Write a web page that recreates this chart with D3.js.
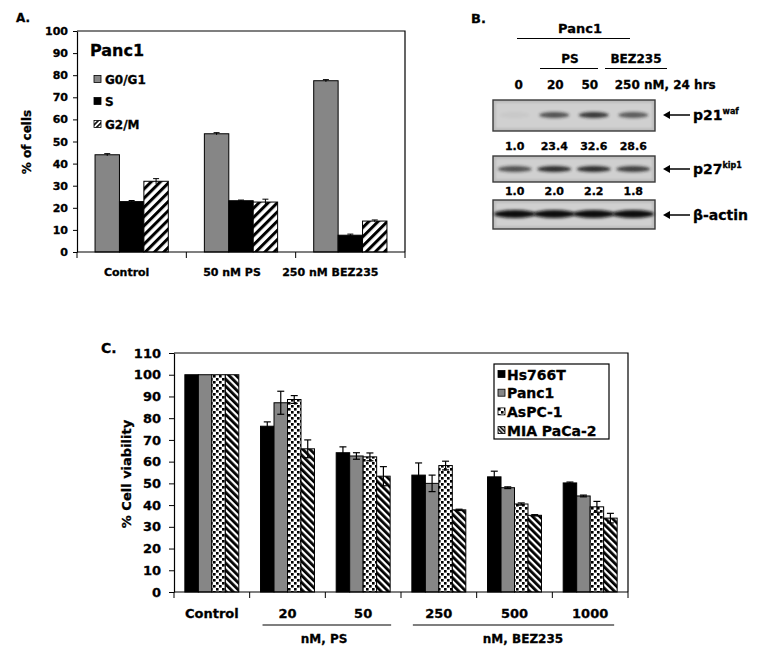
<!DOCTYPE html>
<html><head><meta charset="utf-8">
<script src="https://cdn.jsdelivr.net/npm/d3@7"></script>
<style>
html,body{margin:0;padding:0;background:#fff;}
svg{display:block;}
text{font-family:"DejaVu Sans","Liberation Sans",Arial,sans-serif;font-weight:bold;fill:#000;stroke:#000;stroke-width:0.3px;}
</style></head>
<body>
<svg id="fig" width="780" height="651"></svg>
<script>
// ---------- Panel A data ----------
const aCategories = ["Control", "50 nM PS", "250 nM BEZ235"];
const aSeries = ["G0/G1", "S", "G2/M"];
const aG0G1 = [44, 53.5, 77.5];
const aG0G1Err = [0.5, 0.5, 0.5];
const aS = [22.8, 23.2, 7.6];
const aSErr = [0.5, 0.3, 0.5];
const aG2M = [32, 22.6, 14];
const aG2MErr = [1.2, 1.3, 0.5];
const aTicks = [0, 10, 20, 30, 40, 50, 60, 70, 80, 90, 100];

// ---------- Panel B data ----------
const bLanes = ["0", "20", "50", "250"];
const bP21Quant = ["1.0", "23.4", "32.6", "28.6"];
const bP27Quant = ["1.0", "2.0", "2.2", "1.8"];
const bP21Band = [0.04, 0.7, 0.85, 0.65];
const bP27Band = [0.7, 0.9, 0.9, 0.8];
const bActinBand = [1, 1, 1, 1];

// ---------- Panel C data ----------
const cCategories = ["Control", "20", "50", "250", "500", "1000"];
const cSeries = ["Hs766T", "Panc1", "AsPC-1", "MIA PaCa-2"];
const cHs766T = [100, 76.3, 64.1, 53.8, 53, 50.2];
const cHs766TErr = [0, 2, 2.7, 5.6, 2.6, 0.4];
const cPanc1 = [100, 87.1, 62.6, 50, 48, 44.2];
const cPanc1Err = [0, 5.3, 1.5, 3.8, 0.4, 0.4];
const cAsPC1 = [100, 88.6, 62.2, 58.2, 40.5, 39.2];
const cAsPC1Err = [0, 1.8, 1.8, 2, 0.5, 2.5];
const cMIA = [100, 65.9, 53.3, 37.8, 35.3, 34];
const cMIAErr = [0, 4.1, 4.4, 0.3, 0.3, 2.2];
const cTicks = [0, 10, 20, 30, 40, 50, 60, 70, 80, 90, 100, 110];

const svg = d3.select("#fig");
const defs = svg.append("defs");

// patterns
function stripes(id, size, black, angle) {
  const p = defs.append("pattern").attr("id", id).attr("patternUnits", "userSpaceOnUse")
    .attr("width", size).attr("height", size).attr("patternTransform", `rotate(${angle})`);
  p.append("rect").attr("width", size).attr("height", size).attr("fill", "#fff");
  p.append("rect").attr("width", black).attr("height", size).attr("fill", "#000");
}
stripes("stripeA", 6.5, 3, 45);
stripes("stripeC", 5, 2.8, -45);
stripes("stripeLegA", 3.5, 1.6, 45);
stripes("stripeLegC", 3, 1.6, -45);
(function () {
  const p = defs.append("pattern").attr("id", "dots").attr("patternUnits", "userSpaceOnUse")
    .attr("width", 6).attr("height", 6);
  p.append("rect").attr("width", 6).attr("height", 6).attr("fill", "#fff");
  p.append("rect").attr("x", 0).attr("y", 0).attr("width", 2.6).attr("height", 2.6).attr("fill", "#000");
  p.append("rect").attr("x", 3).attr("y", 3).attr("width", 2.6).attr("height", 2.6).attr("fill", "#000");
})();
defs.append("filter").attr("id", "blur").attr("x", "-30%").attr("y", "-100%").attr("width", "160%").attr("height", "300%")
  .append("feGaussianBlur").attr("stdDeviation", 1.5);
defs.append("filter").attr("id", "blurBg")
  .append("feGaussianBlur").attr("stdDeviation", 1.2);

const grey = "#868686";

// =================== PANEL A ===================
(function () {
  const L = 77, R = 405, T = 31, B = 252;
  const g = svg.append("g");
  const x = d3.scaleBand().domain(aCategories).range([L, R]).paddingInner(0.33).paddingOuter(0.165);
  const xs = d3.scaleBand().domain(aSeries).range([0, x.bandwidth()]);
  const y = d3.scaleLinear().domain([0, 100]).range([B, T]);
  const fills = { "G0/G1": grey, "S": "#000", "G2/M": "url(#stripeA)" };
  const vals = { "G0/G1": aG0G1, "S": aS, "G2/M": aG2M };
  const errs = { "G0/G1": aG0G1Err, "S": aSErr, "G2/M": aG2MErr };

  g.append("path").attr("d", `M${L},${T}H${R}V${B}`).attr("fill", "none").attr("stroke", "#000").attr("stroke-width", 1.2);

  aSeries.forEach(s => {
    const data = aCategories.map((c, i) => ({ c, v: vals[s][i], e: errs[s][i] }));
    g.selectAll(null).data(data).enter().append("rect")
      .attr("x", d => x(d.c) + xs(s)).attr("y", d => y(d.v))
      .attr("width", xs.bandwidth()).attr("height", d => B - y(d.v))
      .attr("fill", fills[s]).attr("stroke", "#000").attr("stroke-width", 1);
    const eb = g.selectAll(null).data(data).enter().append("g")
      .attr("transform", d => `translate(${x(d.c) + xs(s) + xs.bandwidth() / 2},0)`);
    eb.append("line").attr("y1", d => y(d.v - d.e)).attr("y2", d => y(d.v + d.e)).attr("stroke", "#000");
    eb.append("line").attr("x1", -3).attr("x2", 3).attr("y1", d => y(d.v + d.e)).attr("y2", d => y(d.v + d.e)).attr("stroke", "#000");
  });

  const ya = g.append("g").attr("transform", `translate(${L},0)`)
    .call(d3.axisLeft(y).tickValues(aTicks).tickSize(4).tickSizeOuter(0).tickPadding(5));
  ya.select(".domain").attr("stroke-width", 1.2);
  ya.selectAll("text").style("font-size", "11px").style("font-family", "DejaVu Sans").style("font-weight", "bold");
  g.append("line").attr("x1", L).attr("x2", R).attr("y1", B).attr("y2", B).attr("stroke", "#000").attr("stroke-width", 1.2);
  const bounds = aCategories.map(c => x(c) - x.step() * x.paddingInner() / 2).concat([R]);
  bounds[0] = L;
  g.selectAll(null).data(bounds).enter().append("line")
    .attr("x1", d => d).attr("x2", d => d).attr("y1", B).attr("y2", B + 6).attr("stroke", "#000");
  const labelDx = [-5, -9, -20];
  g.selectAll(null).data(aCategories).enter().append("text")
    .attr("x", (d, i) => x(d) + x.bandwidth() / 2 + labelDx[i]).attr("y", 276)
    .attr("text-anchor", "middle").style("font-size", "11px").text(d => d);

  g.append("text").attr("transform", "translate(31,142) rotate(-90)").attr("text-anchor", "middle")
    .style("font-size", "12px").text("% of cells");
  g.append("text").attr("x", 16).attr("y", 22).style("font-size", "12px").text("A.");

  g.append("text").attr("x", 90).attr("y", 56).style("font-size", "16px").text("Panc1");
  const legY = [79, 101, 124];
  aSeries.forEach((s, i) => {
    g.append("rect").attr("x", 94).attr("y", legY[i] - 3.5).attr("width", 7).attr("height", 7)
      .attr("fill", s === "G2/M" ? "url(#stripeLegA)" : fills[s]).attr("stroke", "#000").attr("stroke-width", 0.8);
    g.append("text").attr("x", 105).attr("y", legY[i] + 4.5).style("font-size", "12px").text(s);
  });
})();

// =================== PANEL B (western blot) ===================
(function () {
  const g = svg.append("g");
  const L = 493, R = 655;
  const lane = d3.scaleBand().domain(bLanes).range([L, R]).padding(0.1);
  const cx = d => lane(d) + lane.bandwidth() / 2;

  g.append("text").attr("x", 471).attr("y", 23).style("font-size", "13px").text("B.");
  g.append("text").attr("x", 580).attr("y", 33).attr("text-anchor", "middle").style("font-size", "13px").text("Panc1");
  g.append("line").attr("x1", 517).attr("x2", 630).attr("y1", 38.5).attr("y2", 38.5).attr("stroke", "#000").attr("stroke-width", 1.2);
  g.append("text").attr("x", 570).attr("y", 63).attr("text-anchor", "middle").style("font-size", "12px").text("PS");
  g.append("text").attr("x", 636).attr("y", 63).attr("text-anchor", "middle").style("font-size", "12px").text("BEZ235");
  g.append("line").attr("x1", 540).attr("x2", 598).attr("y1", 68.5).attr("y2", 68.5).attr("stroke", "#000").attr("stroke-width", 1.2);
  g.append("line").attr("x1", 605).attr("x2", 667).attr("y1", 68.5).attr("y2", 68.5).attr("stroke", "#000").attr("stroke-width", 1.2);
  const laneDx = [4, 1, -4, -6];
  g.selectAll(null).data(bLanes).enter().append("text")
    .attr("x", (d, i) => cx(d) + laneDx[i]).attr("y", 89).attr("text-anchor", "middle").style("font-size", "12px").text(d => d);
  g.append("text").attr("x", 644).attr("y", 89).style("font-size", "12px").text("nM, 24 hrs");

  function blot(top, h, bandY, bandH, bandW, intens, dark) {
    g.append("rect").attr("x", L).attr("y", top).attr("width", R - L).attr("height", h)
      .attr("fill", "#bdbdbd").attr("stroke", "#3a3a3a").attr("stroke-width", 1.4);
    g.append("rect").attr("x", L + 3).attr("y", top + 3).attr("width", R - L - 6).attr("height", h - 6)
      .attr("fill", "#d0d0d0").attr("filter", "url(#blurBg)");
    g.selectAll(null).data(bLanes.map((d, i) => ({ d, v: intens[i] }))).enter().append("ellipse")
      .attr("cx", d => cx(d.d)).attr("cy", bandY).attr("rx", bandW / 2).attr("ry", bandH / 2)
      .attr("fill", dark).attr("opacity", d => d.v).attr("filter", "url(#blur)");
  }
  blot(100, 31, 115, 6, 30, bP21Band, "#1a1a1a");
  blot(156, 26, 169, 6, 34, bP27Band, "#1a1a1a");
  blot(200, 29, 214, 8, 42, bActinBand, "#111");

  g.selectAll(null).data(bP21Quant).enter().append("text")
    .attr("x", (d, i) => cx(bLanes[i])).attr("y", 150).attr("text-anchor", "middle").style("font-size", "11px").text(d => d);
  g.selectAll(null).data(bP27Quant).enter().append("text")
    .attr("x", (d, i) => cx(bLanes[i])).attr("y", 195).attr("text-anchor", "middle").style("font-size", "11px").text(d => d);

  function arrowLabel(yy, main, sup) {
    g.append("line").attr("x1", 666).attr("x2", 690).attr("y1", yy).attr("y2", yy).attr("stroke", "#000").attr("stroke-width", 1.5);
    g.append("path").attr("d", `M663,${yy}L670,${yy - 4}L670,${yy + 4}Z`).attr("fill", "#000");
    const t = g.append("text").attr("x", 693).attr("y", yy + 5).style("font-size", "14px").text(main);
    if (sup) t.append("tspan").attr("dy", -6).style("font-size", "8px").text(sup);
  }
  arrowLabel(115, "p21", "waf");
  arrowLabel(169, "p27", "kip1");
  arrowLabel(215, "β-actin", null);
})();

// =================== PANEL C ===================
(function () {
  const L = 174, R = 628, T = 353, B = 592;
  const g = svg.append("g");
  const x = d3.scaleBand().domain(cCategories).range([L, R]).paddingInner(0.287).paddingOuter(0.1435);
  const xs = d3.scaleBand().domain(cSeries).range([0, x.bandwidth()]);
  const y = d3.scaleLinear().domain([0, 110]).range([B, T]);
  const fills = { "Hs766T": "#000", "Panc1": grey, "AsPC-1": "url(#dots)", "MIA PaCa-2": "url(#stripeC)" };
  const vals = { "Hs766T": cHs766T, "Panc1": cPanc1, "AsPC-1": cAsPC1, "MIA PaCa-2": cMIA };
  const errs = { "Hs766T": cHs766TErr, "Panc1": cPanc1Err, "AsPC-1": cAsPC1Err, "MIA PaCa-2": cMIAErr };

  g.append("path").attr("d", `M${L},${T}H${R}V${B}`).attr("fill", "none").attr("stroke", "#000").attr("stroke-width", 1.2);

  cSeries.forEach(s => {
    const data = cCategories.map((c, i) => ({ c, v: vals[s][i], e: errs[s][i] }));
    g.selectAll(null).data(data).enter().append("rect")
      .attr("x", d => x(d.c) + xs(s)).attr("y", d => y(d.v))
      .attr("width", xs.bandwidth()).attr("height", d => B - y(d.v))
      .attr("fill", fills[s]).attr("stroke", "#000").attr("stroke-width", 1);
    const eb = g.selectAll(null).data(data.filter(d => d.e > 0)).enter().append("g")
      .attr("transform", d => `translate(${x(d.c) + xs(s) + xs.bandwidth() / 2},0)`);
    eb.append("line").attr("y1", d => y(d.v - d.e)).attr("y2", d => y(d.v + d.e)).attr("stroke", "#000").attr("stroke-width", 1.2);
    eb.append("line").attr("x1", -3.5).attr("x2", 3.5).attr("y1", d => y(d.v + d.e)).attr("y2", d => y(d.v + d.e)).attr("stroke", "#000").attr("stroke-width", 1.2);
    eb.append("line").attr("x1", -3.5).attr("x2", 3.5).attr("y1", d => y(d.v - d.e)).attr("y2", d => y(d.v - d.e)).attr("stroke", "#000").attr("stroke-width", 1.2);
  });

  const ya = g.append("g").attr("transform", `translate(${L},0)`)
    .call(d3.axisLeft(y).tickValues(cTicks).tickSize(5).tickSizeOuter(0).tickPadding(8));
  ya.select(".domain").attr("stroke-width", 1.2);
  ya.selectAll("text").style("font-size", "13px").style("font-family", "DejaVu Sans").style("font-weight", "bold");
  g.append("line").attr("x1", L).attr("x2", R).attr("y1", B).attr("y2", B).attr("stroke", "#000").attr("stroke-width", 1.2);
  const bounds = cCategories.map(c => x(c) - x.step() * x.paddingInner() / 2).concat([R]);
  bounds[0] = L;
  g.selectAll(null).data(bounds).enter().append("line")
    .attr("x1", d => d).attr("x2", d => d).attr("y1", B).attr("y2", B + 6).attr("stroke", "#000");
  g.selectAll(null).data(cCategories).enter().append("text")
    .attr("x", d => x(d) + x.bandwidth() / 2).attr("y", 618)
    .attr("text-anchor", "middle").style("font-size", "13px").text(d => d);

  // group brackets
  const bw = x.bandwidth();
  const psL = x("20") + 2, psR = x("50") + bw + 1;
  const bzL = x("250") + 1, bzR = x("1000") + bw - 3;
  g.append("line").attr("x1", psL).attr("x2", psR).attr("y1", 625).attr("y2", 625).attr("stroke", "#000").attr("stroke-width", 1.2);
  g.append("line").attr("x1", bzL).attr("x2", bzR).attr("y1", 625).attr("y2", 625).attr("stroke", "#000").attr("stroke-width", 1.2);
  g.append("text").attr("x", 324).attr("y", 643).attr("text-anchor", "middle").style("font-size", "12px").text("nM, PS");
  g.append("text").attr("x", 523).attr("y", 643).attr("text-anchor", "middle").style("font-size", "12px").text("nM, BEZ235");

  g.append("text").attr("transform", "translate(131,474) rotate(-90)").attr("text-anchor", "middle")
    .style("font-size", "13px").text("% Cell viability");
  g.append("text").attr("x", 101).attr("y", 353).style("font-size", "14px").text("C.");

  g.append("rect").attr("x", 494).attr("y", 364).attr("width", 115).attr("height", 75)
    .attr("fill", "#fff").attr("stroke", "#000").attr("stroke-width", 1.2);
  const legFill = { "Hs766T": "#000", "Panc1": grey, "AsPC-1": "url(#dots)", "MIA PaCa-2": "url(#stripeLegC)" };
  cSeries.forEach((s, i) => {
    const yy = 374 + i * 18.7;
    g.append("rect").attr("x", 498).attr("y", yy - 3.5).attr("width", 7).attr("height", 7)
      .attr("fill", legFill[s]).attr("stroke", "#000").attr("stroke-width", 0.8);
    g.append("text").attr("x", 507).attr("y", yy + 5.5).style("font-size", "14px").text(s);
  });
})();
</script>
</body></html>
